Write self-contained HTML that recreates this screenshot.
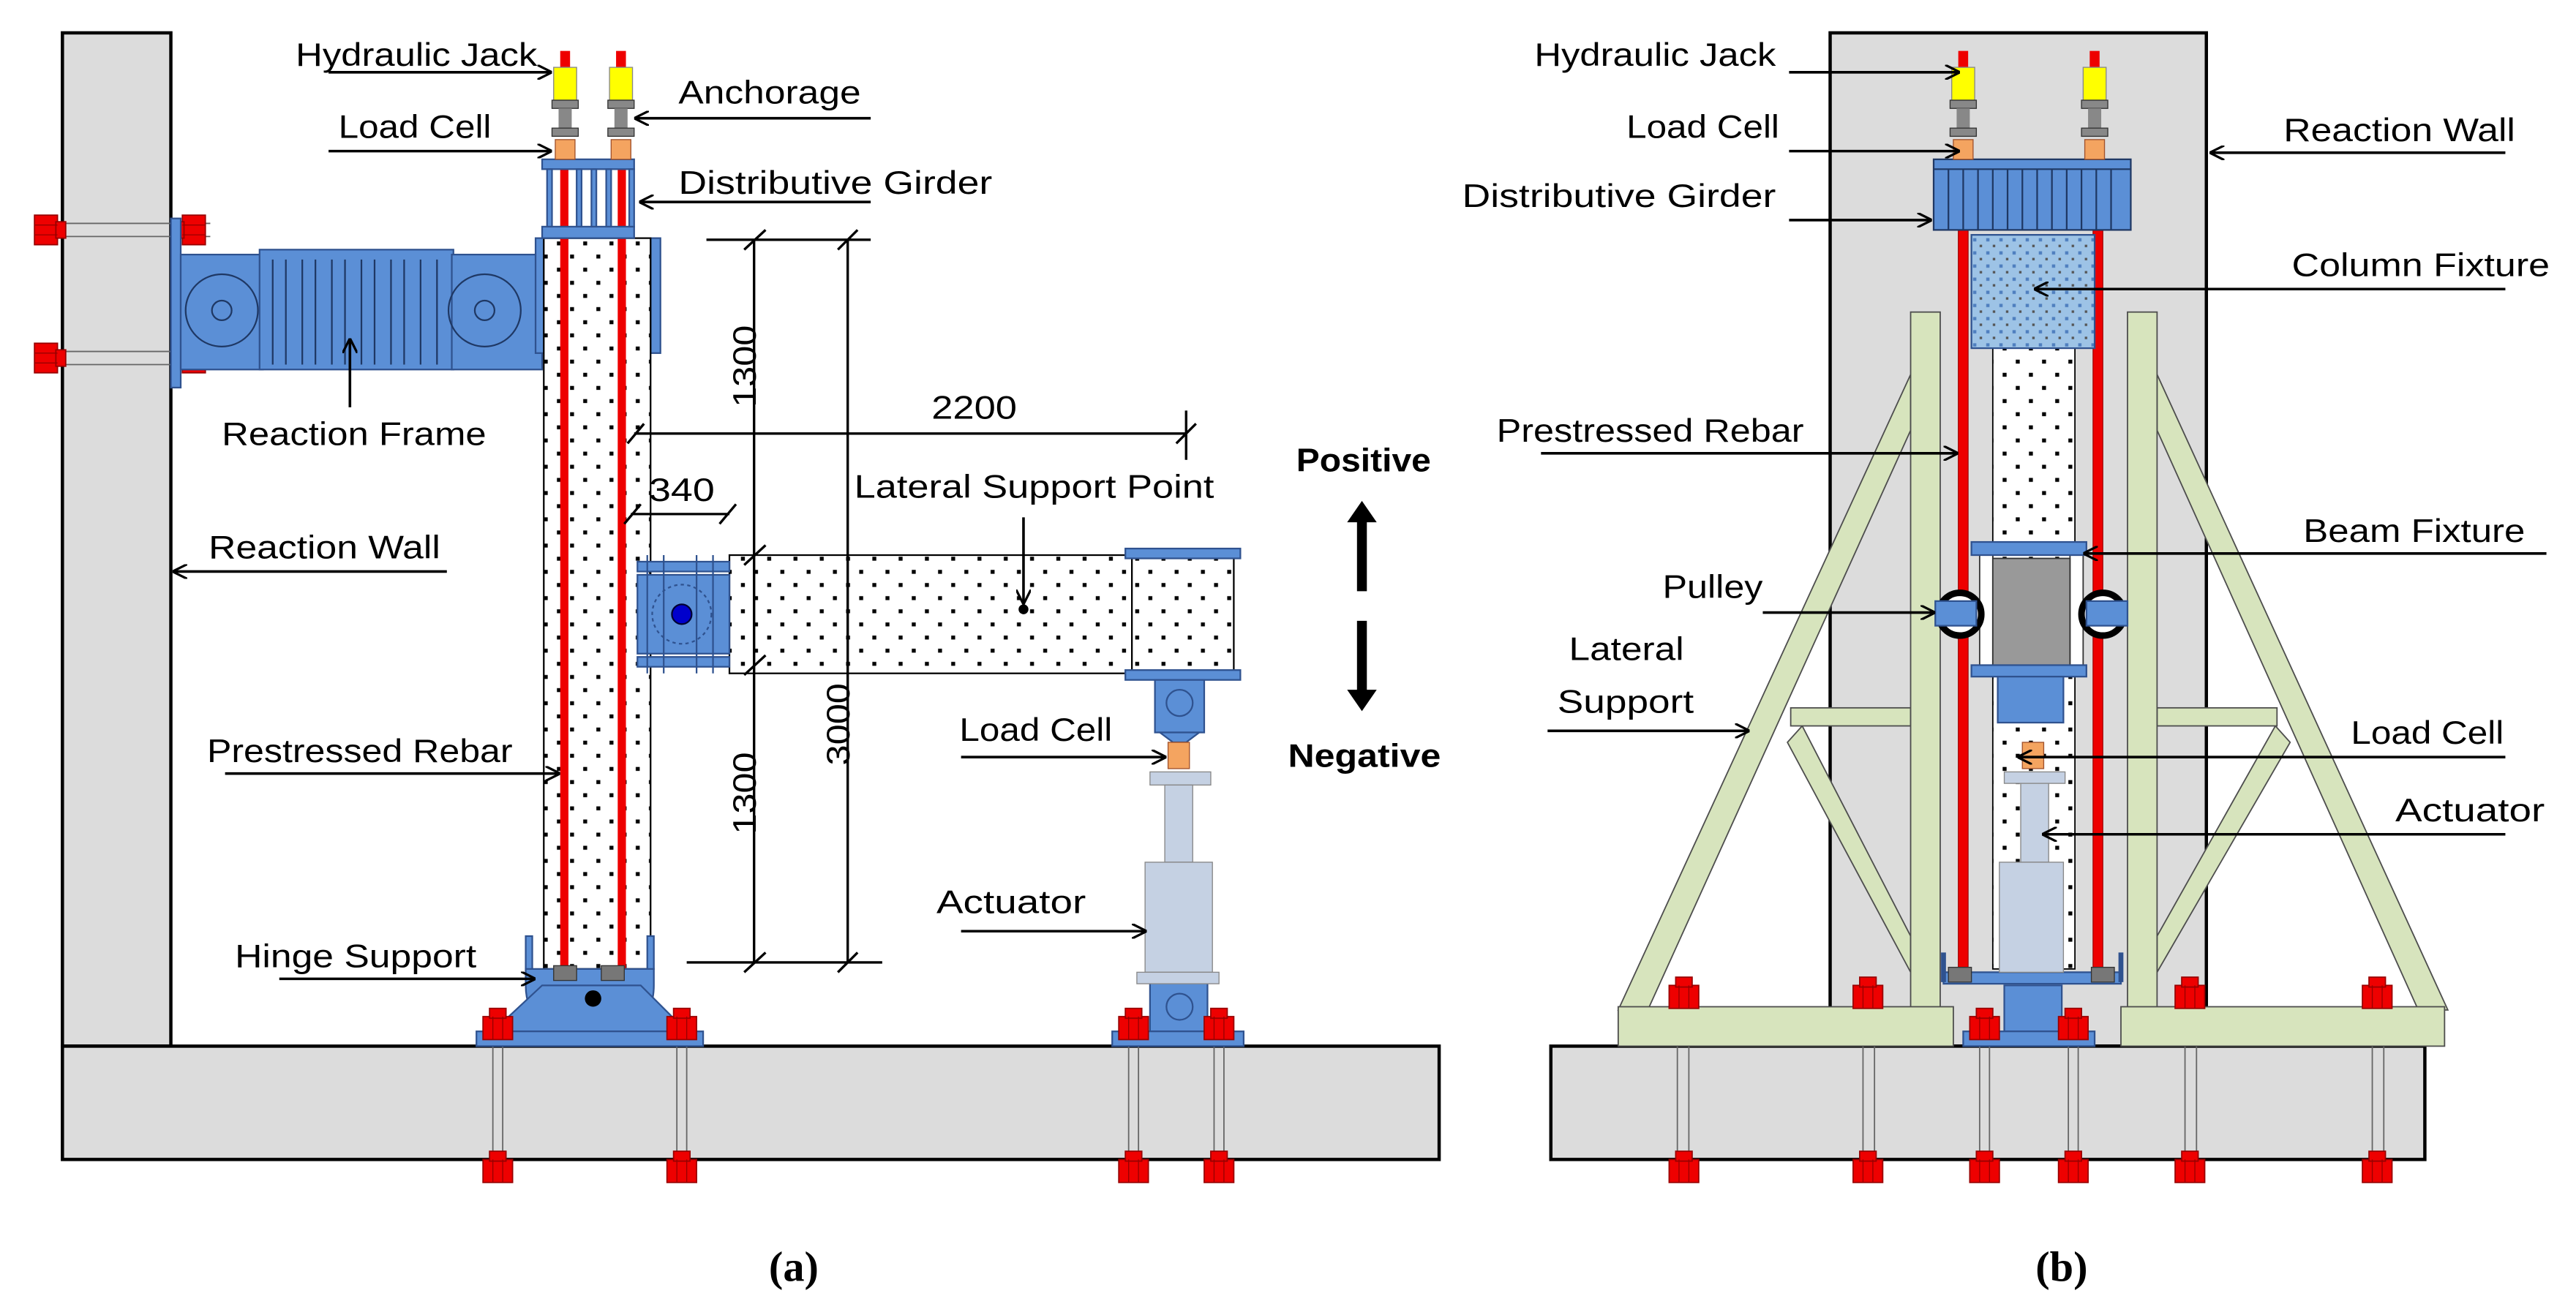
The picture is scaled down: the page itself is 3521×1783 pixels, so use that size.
<!DOCTYPE html>
<html><head><meta charset="utf-8"><style>
html,body{margin:0;padding:0;background:#fff}
svg{display:block}
text{font-family:"Liberation Sans",sans-serif;font-size:20px;fill:#000}
</style></head><body>
<svg width="3521" height="1783" viewBox="0 0 1568 794" xmlns="http://www.w3.org/2000/svg">
<defs>
<pattern id="dots" width="16" height="16" patternUnits="userSpaceOnUse">
<rect width="16" height="16" fill="#fff"/><rect x="3" y="3" width="2.4" height="2.4" fill="#000"/><rect x="11" y="11" width="2.4" height="2.4" fill="#000"/></pattern>
<pattern id="bdots" width="8" height="8" patternUnits="userSpaceOnUse">
<rect width="8" height="8" fill="#9dc3e6"/><rect x="1" y="1" width="2" height="2" fill="#4f7fbf"/><rect x="5" y="5" width="1.5" height="1.5" fill="#555"/></pattern>
<marker id="ar" viewBox="0 0 10 10" refX="10" refY="5" markerWidth="9" markerHeight="9" orient="auto" markerUnits="userSpaceOnUse">
<path d="M0,0 L10,5 L0,10" fill="none" stroke="#000" stroke-width="1.6"/></marker>
<g id="bolt"><rect x="-9" y="-6" width="18" height="14" fill="#e00" stroke="#900" stroke-width="0.8"/><rect x="-5" y="-11" width="10" height="6" fill="#e00" stroke="#900" stroke-width="0.8"/><line x1="-3" y1="-6" x2="-3" y2="8" stroke="#900" stroke-width="0.6"/><line x1="3" y1="-6" x2="3" y2="8" stroke="#900" stroke-width="0.6"/></g>
<g id="jack"><rect x="-3" y="0" width="6" height="12" fill="#e00"/><rect x="-7" y="10" width="14" height="20" fill="#ff0" stroke="#888" stroke-width="0.6"/><rect x="-8" y="30" width="16" height="5" fill="#888" stroke="#333" stroke-width="0.6"/><rect x="-4" y="35" width="8" height="12" fill="#888"/><rect x="-8" y="47" width="16" height="5" fill="#888" stroke="#333" stroke-width="0.6"/><rect x="-6" y="54" width="12" height="12" fill="#f4a460" stroke="#a0522d" stroke-width="0.6"/></g>
</defs>
<g stroke="#000" stroke-width="2" fill="#dcdcdc">
<rect x="38" y="20" width="66" height="617"/>
<rect x="38" y="637" width="838" height="69"/>
<rect x="1114" y="20" width="229" height="617"/>
<rect x="944" y="637" width="532" height="69"/>
</g>
<g stroke="#666" stroke-width="0.8" fill="none">
<path d="M300 637V710M306 637V710M412 637V710M418 637V710M687 637V710M693 637V710M739 637V710M745 637V710"/>
<path d="M1021 637V710M1028 637V710M1134 637V710M1141 637V710M1205 637V710M1211 637V710M1259 637V710M1265 637V710M1330 637V710M1337 637V710M1444 637V710M1451 637V710"/>
<path d="M38 136H128M38 144H128M38 214H128M38 222H128"/>
</g>
<g><use href="#bolt" transform="translate(29,140) rotate(90)"/><use href="#bolt" transform="translate(117,140) rotate(-90)"/>
<use href="#bolt" transform="translate(29,218) rotate(90)"/><use href="#bolt" transform="translate(117,218) rotate(-90)"/></g>
<g fill="#5b8fd6" stroke="#2f528f" stroke-width="1">
<rect x="104" y="133" width="6" height="103"/>
<rect x="110" y="155" width="50" height="70"/>
<rect x="158" y="152" width="118" height="73"/>
<rect x="275" y="155" width="55" height="70"/>
<rect x="326" y="145" width="6" height="70"/><rect x="396" y="145" width="6" height="70"/>
</g>
<g stroke="#1f3864" stroke-width="1" fill="none">
<path d="M166 158V222M174 158V222M184 158V222M192 158V222M202 158V222M210 158V222M220 158V222M228 158V222M238 158V222M246 158V222M256 158V222M266 158V222"/>
<circle cx="135" cy="189" r="22"/><circle cx="135" cy="189" r="6"/>
<circle cx="295" cy="189" r="22"/><circle cx="295" cy="189" r="6"/>
</g>
<rect x="331" y="145" width="65" height="445" fill="url(#dots)" stroke="#000" stroke-width="1"/>
<rect x="341" y="100" width="5" height="495" fill="#e00"/><rect x="376" y="100" width="5" height="495" fill="#e00"/>
<g fill="#5b8fd6" stroke="#2f528f" stroke-width="1">
<rect x="330" y="97" width="56" height="6"/><rect x="330" y="138" width="56" height="7"/>
<rect x="333" y="103" width="3" height="35"/><rect x="351" y="103" width="3" height="35"/><rect x="360" y="103" width="3" height="35"/><rect x="383" y="103" width="3" height="35"/><rect x="369" y="103" width="3" height="35"/>
</g>
<use href="#jack" transform="translate(344,31)"/><use href="#jack" transform="translate(378,31)"/>
<g fill="#5b8fd6" stroke="#2f528f" stroke-width="1">
<path d="M320 590 H398 V600 Q398 630 359 630 Q320 630 320 600Z"/>
<path d="M300 628 L330 600 L390 600 L418 628Z"/>
<rect x="290" y="628" width="138" height="9"/>
<rect x="320" y="570" width="4" height="20"/><rect x="394" y="570" width="4" height="20"/>
</g>
<rect x="337" y="588" width="14" height="9" fill="#777" stroke="#333" stroke-width="0.6"/><rect x="366" y="588" width="14" height="9" fill="#777" stroke="#333" stroke-width="0.6"/>
<circle cx="361" cy="608" r="5" fill="#000"/>
<rect x="444" y="338" width="245" height="72" fill="url(#dots)" stroke="#000" stroke-width="1"/>
<rect x="689" y="338" width="62" height="72" fill="url(#dots)" stroke="#000" stroke-width="1"/>
<g fill="#5b8fd6" stroke="#2f528f" stroke-width="1">
<rect x="388" y="350" width="56" height="48"/>
<rect x="388" y="342" width="56" height="6"/><rect x="388" y="400" width="56" height="6"/>
<rect x="685" y="334" width="70" height="6"/><rect x="685" y="408" width="70" height="6"/>
<rect x="703" y="414" width="30" height="32"/><path d="M706 446 L730 446 L722 452 L714 452Z"/>
<rect x="700" y="598" width="35" height="30"/><rect x="677" y="628" width="80" height="9"/>
</g>
<g stroke="#2f528f" fill="none" stroke-width="1"><circle cx="415" cy="374" r="18" stroke-dasharray="2 2"/><circle cx="718" cy="428" r="8"/><circle cx="718" cy="613" r="8"/>
<path d="M394 338V410M404 338V410M424 338V410M434 338V410"/></g>
<circle cx="415" cy="374" r="6" fill="#00c" stroke="#003"/>
<rect x="711" y="452" width="13" height="16" fill="#f4a460" stroke="#a0522d" stroke-width="0.6"/>
<rect x="700" y="470" width="37" height="8" fill="#c5d1e3" stroke="#888" stroke-width="0.6"/>
<rect x="709" y="478" width="17" height="47" fill="#c5d1e3" stroke="#888" stroke-width="0.6"/>
<rect x="697" y="525" width="41" height="67" fill="#c5d1e3" stroke="#888" stroke-width="0.6"/>
<rect x="692" y="592" width="50" height="7" fill="#c5d1e3" stroke="#888" stroke-width="0.6"/>
<g><use href="#bolt" transform="translate(303,625)"/><use href="#bolt" transform="translate(415,625)"/><use href="#bolt" transform="translate(690,625)"/><use href="#bolt" transform="translate(742,625)"/>
<use href="#bolt" transform="translate(303,712)"/><use href="#bolt" transform="translate(415,712)"/><use href="#bolt" transform="translate(690,712)"/><use href="#bolt" transform="translate(742,712)"/></g>
<g stroke="#000" stroke-width="1.5" fill="none">
<path d="M430 146H530M418 586H537M459 146V586M516 146V586"/>
<path d="M453 152L466 140M510 152L522 140M453 592L466 580M510 592L522 580"/>
<path d="M386 264H722M722 250V280M382 270L392 258M716 270L728 258"/>
<path d="M384 313H444M380 319L390 307M438 319L448 307M453 344L466 332M453 411L466 399"/>
</g>
<text transform="translate(460,248) rotate(-90)" textLength="50" lengthAdjust="spacingAndGlyphs">1300</text>
<text transform="translate(460,508) rotate(-90)" textLength="50" lengthAdjust="spacingAndGlyphs">1300</text>
<text transform="translate(517,466) rotate(-90)" textLength="50" lengthAdjust="spacingAndGlyphs">3000</text>
<text x="567" y="255" textLength="52" lengthAdjust="spacingAndGlyphs">2200</text>
<text x="395" y="305" textLength="40" lengthAdjust="spacingAndGlyphs">340</text>
<g stroke="#000" stroke-width="1.6" fill="none" marker-end="url(#ar)">
<path d="M200 44H336"/><path d="M530 72H386"/><path d="M200 92H336"/><path d="M530 123H389"/>
<path d="M213 248V206"/><path d="M272 348H105"/><path d="M137 471H341"/><path d="M170 596H326"/>
<path d="M623 315V368"/><path d="M585 461H710"/><path d="M585 567H698"/>
</g>
<circle cx="623" cy="371" r="3" fill="#000"/>
<text x="180" y="40" textLength="147" lengthAdjust="spacingAndGlyphs">Hydraulic Jack</text>
<text x="413" y="63" textLength="111" lengthAdjust="spacingAndGlyphs">Anchorage</text>
<text x="206" y="84" textLength="93" lengthAdjust="spacingAndGlyphs">Load Cell</text>
<text x="413" y="118" textLength="191" lengthAdjust="spacingAndGlyphs">Distributive Girder</text>
<text x="135" y="271" textLength="161" lengthAdjust="spacingAndGlyphs">Reaction Frame</text>
<text x="127" y="340" textLength="141" lengthAdjust="spacingAndGlyphs">Reaction Wall</text>
<text x="126" y="464" textLength="186" lengthAdjust="spacingAndGlyphs">Prestressed Rebar</text>
<text x="143" y="589" textLength="147" lengthAdjust="spacingAndGlyphs">Hinge Support</text>
<text x="520" y="303" textLength="219" lengthAdjust="spacingAndGlyphs">Lateral Support Point</text>
<text x="584" y="451" textLength="93" lengthAdjust="spacingAndGlyphs">Load Cell</text>
<text x="570" y="556" textLength="91" lengthAdjust="spacingAndGlyphs">Actuator</text>
<text x="789" y="287" style="font-weight:bold" textLength="82" lengthAdjust="spacingAndGlyphs">Positive</text>
<text x="784" y="467" style="font-weight:bold" textLength="93" lengthAdjust="spacingAndGlyphs">Negative</text>
<path d="M826 360V318H820L829 305L838 318H832V360Z" fill="#000"/>
<path d="M826 378V420H820L829 433L838 420H832V378Z" fill="#000"/>
<text x="468" y="780" style="font-family:'Liberation Serif',serif;font-weight:bold;font-size:26px">(a)</text>
<text x="1239" y="780" style="font-family:'Liberation Serif',serif;font-weight:bold;font-size:26px">(b)</text>

<g fill="#d7e4bd" stroke="#4d4d4d" stroke-width="0.8">
<path d="M985 615 L1163 228 L1163 262 L1003 615Z"/>
<path d="M1490 615 L1313 228 L1313 262 L1472 615Z"/>
<path d="M1097 442 L1163 570 L1163 592 L1088 452Z"/>
<path d="M1385 442 L1313 570 L1313 592 L1394 452Z"/>
<rect x="1090" y="431" width="73" height="11"/><rect x="1313" y="431" width="73" height="11"/>
<rect x="1163" y="190" width="18" height="425"/><rect x="1295" y="190" width="18" height="425"/>
<rect x="985" y="613" width="204" height="24"/><rect x="1291" y="613" width="197" height="24"/>
</g>
<rect x="1213" y="145" width="50" height="445" fill="url(#dots)" stroke="#000" stroke-width="0.8"/>
<rect x="1192" y="140" width="6" height="455" fill="#e00" stroke="#900" stroke-width="0.5"/>
<rect x="1274" y="140" width="6" height="455" fill="#e00" stroke="#900" stroke-width="0.5"/>
<rect x="1200" y="143" width="75" height="69" fill="url(#bdots)" stroke="#2f528f" stroke-width="1"/>
<g fill="#5b8fd6" stroke="#1f3864" stroke-width="1">
<rect x="1177" y="97" width="120" height="43"/>
<path d="M1177 103H1297M1186 103V140M1195 103V140M1204 103V140M1213 103V140M1222 103V140M1231 103V140M1240 103V140M1249 103V140M1258 103V140M1267 103V140M1276 103V140M1285 103V140" fill="none"/>
</g>
<use href="#jack" transform="translate(1195,31)"/><use href="#jack" transform="translate(1275,31)"/>
<rect x="1205" y="338" width="8" height="67" fill="#fff" stroke="#333" stroke-width="0.8"/>
<rect x="1260" y="338" width="8" height="67" fill="#fff" stroke="#333" stroke-width="0.8"/>
<rect x="1213" y="340" width="47" height="65" fill="#999" stroke="#333" stroke-width="0.8"/>
<circle cx="1193" cy="374" r="13" fill="#fff" stroke="#000" stroke-width="4"/>
<circle cx="1280" cy="374" r="13" fill="#fff" stroke="#000" stroke-width="4"/>
<g fill="#5b8fd6" stroke="#2f528f" stroke-width="1">
<rect x="1200" y="330" width="70" height="8"/><rect x="1200" y="405" width="70" height="7"/>
<rect x="1178" y="366" width="25" height="15"/><rect x="1270" y="366" width="25" height="15"/>
<rect x="1216" y="412" width="40" height="28"/>
<path d="M1183 592H1291V599H1183Z"/><path d="M1183 580V598M1291 580V598" stroke-width="3"/>
<rect x="1220" y="600" width="35" height="28"/>
<rect x="1195" y="628" width="80" height="9"/>
</g>
<rect x="1231" y="452" width="13" height="16" fill="#f4a460" stroke="#a0522d" stroke-width="0.6"/>
<rect x="1220" y="470" width="37" height="7" fill="#c5d1e3" stroke="#888" stroke-width="0.6"/>
<rect x="1230" y="477" width="17" height="48" fill="#c5d1e3" stroke="#888" stroke-width="0.6"/>
<rect x="1217" y="525" width="39" height="67" fill="#c5d1e3" stroke="#888" stroke-width="0.6"/>
<rect x="1186" y="589" width="14" height="9" fill="#777" stroke="#333" stroke-width="0.6"/><rect x="1273" y="589" width="14" height="9" fill="#777" stroke="#333" stroke-width="0.6"/>
<g><use href="#bolt" transform="translate(1025,606)"/><use href="#bolt" transform="translate(1137,606)"/><use href="#bolt" transform="translate(1208,625)"/><use href="#bolt" transform="translate(1262,625)"/><use href="#bolt" transform="translate(1333,606)"/><use href="#bolt" transform="translate(1447,606)"/>
<use href="#bolt" transform="translate(1025,712)"/><use href="#bolt" transform="translate(1137,712)"/><use href="#bolt" transform="translate(1208,712)"/><use href="#bolt" transform="translate(1262,712)"/><use href="#bolt" transform="translate(1333,712)"/><use href="#bolt" transform="translate(1447,712)"/></g>
<g stroke="#000" stroke-width="1.6" fill="none" marker-end="url(#ar)">
<path d="M1089 44H1193"/><path d="M1089 92H1193"/><path d="M1089 134H1176"/>
<path d="M1525 93H1345"/><path d="M1525 176H1238"/><path d="M938 276H1192"/>
<path d="M1550 337H1268"/><path d="M1073 373H1178"/><path d="M942 445H1065"/>
<path d="M1525 461H1228"/><path d="M1525 508H1243"/>
</g>
<text x="934" y="40" textLength="147" lengthAdjust="spacingAndGlyphs">Hydraulic Jack</text>
<text x="990" y="84" textLength="93" lengthAdjust="spacingAndGlyphs">Load Cell</text>
<text x="890" y="126" textLength="191" lengthAdjust="spacingAndGlyphs">Distributive Girder</text>
<text x="1390" y="86" textLength="141" lengthAdjust="spacingAndGlyphs">Reaction Wall</text>
<text x="1395" y="168" textLength="157" lengthAdjust="spacingAndGlyphs">Column Fixture</text>
<text x="911" y="269" textLength="187" lengthAdjust="spacingAndGlyphs">Prestressed Rebar</text>
<text x="1402" y="330" textLength="135" lengthAdjust="spacingAndGlyphs">Beam Fixture</text>
<text x="1012" y="364" textLength="61" lengthAdjust="spacingAndGlyphs">Pulley</text>
<text x="955" y="402" textLength="70" lengthAdjust="spacingAndGlyphs">Lateral</text>
<text x="948" y="434" textLength="83" lengthAdjust="spacingAndGlyphs">Support</text>
<text x="1431" y="453" textLength="93" lengthAdjust="spacingAndGlyphs">Load Cell</text>
<text x="1458" y="500" textLength="91" lengthAdjust="spacingAndGlyphs">Actuator</text>
</svg>
</body></html>
